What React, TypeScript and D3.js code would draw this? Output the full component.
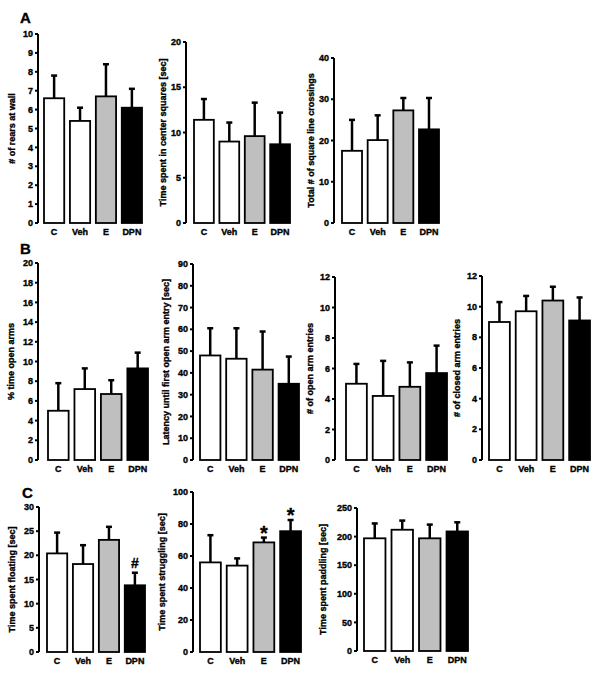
import * as d3 from "d3";

const groups = ["C", "Veh", "E", "DPN"];
const fills = ["#ffffff", "#ffffff", "#bfbfbf", "#000000"];

// means and upper error bar ends, one pair per panel
const rearsMean = [6.6, 5.4, 6.7, 6.1];
const rearsErr = [7.8, 6.1, 8.4, 7.1];
const centerMean = [11.4, 9.0, 9.6, 8.7];
const centerErr = [13.7, 11.1, 13.3, 12.2];
const crossMean = [17.5, 20.1, 27.3, 22.7];
const crossErr = [25.0, 26.1, 30.3, 30.3];
const openTimeMean = [5.0, 7.2, 6.7, 9.3];
const openTimeErr = [7.8, 9.3, 8.1, 10.9];
const latencyMean = [48, 46.5, 41.5, 35];
const latencyErr = [60.5, 60.5, 59, 47.5];
const openEntMean = [5.0, 4.2, 4.8, 5.7];
const openEntErr = [6.3, 6.5, 6.4, 7.5];
const closedEntMean = [9.0, 9.7, 10.4, 9.1];
const closedEntErr = [10.3, 10.7, 11.3, 10.6];
const floatMean = [20.4, 18.2, 23.2, 13.8];
const floatErr = [24.7, 22.1, 25.9, 16.4];
const struggleMean = [56, 54, 68.5, 75.5];
const struggleErr = [73, 58.5, 71.5, 82.5];
const paddleMean = [197, 212, 197, 209];
const paddleErr = [223, 228, 221, 225];
const floatMarks = ["", "", "", "#"];
const struggleMarks = ["", "", "*", "*"];

const panels = [
  { label: "# of rears at wall", mean: rearsMean, err: rearsErr, max: 10, step: 1, ax: 38, top: 34, bot: 223, x0: 44, x1: 142, lx: 26 },
  { label: "Time spent in center squares [sec]", mean: centerMean, err: centerErr, max: 20, step: 5, ax: 186, top: 42, bot: 223, x0: 194, x1: 290, lx: 23 },
  { label: "Total # of square line crossings", mean: crossMean, err: crossErr, max: 40, step: 10, ax: 334, top: 58, bot: 223, x0: 342, x1: 439, lx: 23 },
  { label: "% time open arms", mean: openTimeMean, err: openTimeErr, max: 20, step: 2, ax: 38, top: 263, bot: 460, x0: 48, x1: 148, lx: 27 },
  { label: "Latency until first open arm entry [sec]", mean: latencyMean, err: latencyErr, max: 90, step: 10, ax: 193, top: 264, bot: 460, x0: 200, x1: 299, lx: 27 },
  { label: "# of open arm entries", mean: openEntMean, err: openEntErr, max: 12, step: 2, ax: 335, top: 277, bot: 460, x0: 346, x1: 447, lx: 25 },
  { label: "# of closed arm entries", mean: closedEntMean, err: closedEntErr, max: 12, step: 2, ax: 482, top: 276, bot: 460, x0: 489, x1: 590, lx: 25 },
  { label: "Time spent floating [sec]", mean: floatMean, err: floatErr, max: 30, step: 5, ax: 39, top: 507, bot: 652, x0: 47, x1: 145, lx: 27, marks: floatMarks },
  { label: "Time spent struggling [sec]", mean: struggleMean, err: struggleErr, max: 100, step: 20, ax: 193, top: 492, bot: 652, x0: 200, x1: 301, lx: 31, marks: struggleMarks },
  { label: "Time spent paddling [sec]", mean: paddleMean, err: paddleErr, max: 250, step: 50, ax: 357, top: 508, bot: 651, x0: 364, x1: 468, lx: 34 },
];

const letters = [
  { t: "A", x: 20, y: 23 },
  { t: "B", x: 20, y: 254 },
  { t: "C", x: 22, y: 498 },
];

const font = "'Liberation Sans', Arial, sans-serif";
const heavy = { fontWeight: "bold" as const, fontFamily: font, stroke: "#000", strokeWidth: 0.35 };

function Panel({ p }: { p: any }) {
  const y = d3.scaleLinear().domain([0, p.max]).range([p.bot, p.top]);
  const x = d3.scaleBand().domain(groups).range([p.x0, p.x1]).paddingInner(0.22);
  const ticks = d3.range(0, p.max + p.step / 2, p.step);
  const midY = (p.top + p.bot) / 2;
  return (
    <g>
      <line x1={p.ax} x2={p.ax} y1={y(p.max)} y2={y(0)} stroke="#000" strokeWidth={2} />
      {ticks.map((t) => (
        <g key={t}>
          <line x1={p.ax - 3} x2={p.ax} y1={y(t)} y2={y(t)} stroke="#000" strokeWidth={2} />
          <text x={p.ax - 5} y={y(t)} dy="0.35em" textAnchor="end" fontSize={9} {...heavy}>
            {t}
          </text>
        </g>
      ))}
      <text
        transform={`translate(${p.ax - p.lx},${midY}) rotate(-90)`}
        textAnchor="middle"
        dy="0.35em"
        fontSize={9}
        {...heavy}
      >
        {p.label}
      </text>
      {groups.map((g, i) => {
        const bx = x(g)!;
        const bw = x.bandwidth();
        const cx = bx + bw / 2;
        const mark = p.marks ? p.marks[i] : "";
        return (
          <g key={g}>
            <line x1={cx} x2={cx} y1={y(p.mean[i])} y2={y(p.err[i])} stroke="#000" strokeWidth={2.5} />
            <line x1={cx - 3} x2={cx + 3} y1={y(p.err[i])} y2={y(p.err[i])} stroke="#000" strokeWidth={2.5} />
            <rect x={bx} y={y(p.mean[i])} width={bw} height={y(0) - y(p.mean[i])} fill={fills[i]} stroke="#000" strokeWidth={1.8} />
            <text x={cx} y={p.bot + 12} textAnchor="middle" fontSize={9} {...heavy}>
              {g}
            </text>
            {mark === "#" && (
              <text x={cx} y={y(p.err[i]) - 5} textAnchor="middle" fontSize={14} {...heavy}>
                #
              </text>
            )}
            {mark === "*" && (
              <text x={cx} y={y(p.err[i]) + 2} textAnchor="middle" fontSize={20} {...heavy}>
                *
              </text>
            )}
          </g>
        );
      })}
    </g>
  );
}

export default function App() {
  return (
    <svg width={604} height={673} style={{ position: "absolute", left: 0, top: 0, background: "#fff" }}>
      <rect width={604} height={673} fill="#fff" />
      {letters.map((l) => (
        <text key={l.t} x={l.x} y={l.y} fontSize={15} {...heavy}>
          {l.t}
        </text>
      ))}
      {panels.map((p, i) => (
        <Panel key={i} p={p} />
      ))}
    </svg>
  );
}
